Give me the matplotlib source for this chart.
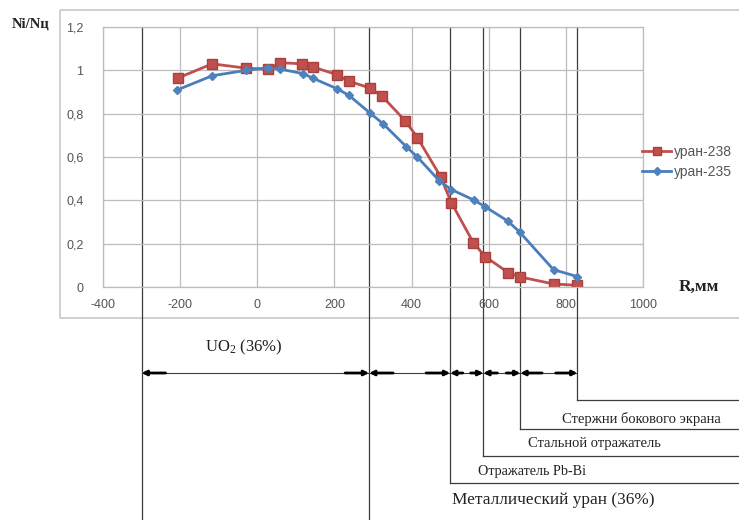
import matplotlib.pyplot as plt
from matplotlib.patches import Rectangle

plt.rcParams["axes.unicode_minus"] = False

# radius, mm and relative fission rate Ni/Nц
r_238 = [-205, -117, -29, 29, 60, 117, 145, 207, 237, 293, 324, 384, 415, 475, 503,
         560, 591, 651, 680, 768, 828]
n_238 = [0.965, 1.03, 1.01, 1.005, 1.035, 1.03, 1.015, 0.98, 0.95, 0.918, 0.88, 0.766,
         0.69, 0.51, 0.39, 0.205, 0.14, 0.066, 0.047, 0.014, 0.008]
r_235 = [-207, -117, -29, 29, 60, 119, 145, 207, 237, 291, 327, 386, 415, 472, 503,
         563, 591, 649, 680, 768, 830]
n_235 = [0.91, 0.975, 1.0, 1.012, 1.005, 0.985, 0.963, 0.915, 0.885, 0.805, 0.752,
         0.648, 0.6, 0.49, 0.45, 0.40, 0.37, 0.305, 0.254, 0.08, 0.048]

x_ticks = [-400, -200, 0, 200, 400, 600, 800, 1000]
y_ticks = [0, 0.2, 0.4, 0.6, 0.8, 1.0, 1.2]
y_labels = ["0", "0,2", "0,4", "0,6", "0,8", "1", "1,2"]

# zone boundaries along R, mm
bounds = [-300, 290, 500, 586, 682, 830]
uo2_label = r"UO$\mathregular{_2}$ (36%)"
zone_labels = ["Металлический уран (36%)", "Отражатель Pb-Bi",
               "Стальной отражатель", "Стержни бокового экрана"]

W, H = 739, 520
fig = plt.figure(figsize=(W / 100, H / 100), dpi=100)

# plot area in pixels
px_l, px_r, px_t, px_b = 103, 643, 27, 287
pos = [px_l / W, 1 - px_b / H, (px_r - px_l) / W, (px_b - px_t) / H]

# overlay for the zone scheme: x in mm (same scale as the chart), y in pixels from top
sk = fig.add_axes([0, 0, 1, 1])
mm_per_px = (x_ticks[-1] - x_ticks[0]) / (px_r - px_l)
sk.set_xlim(x_ticks[0] - px_l * mm_per_px, x_ticks[-1] + (W - px_r) * mm_per_px)
sk.set_ylim(H, 0)
sk.axis("off")

# chart area border
x0, x1 = sk.get_xlim()
sk.add_patch(Rectangle((x0 + 60 * mm_per_px, 10), (W - 58) * mm_per_px, 308,
                       fill=False, edgecolor="#c8c8c8", lw=1.2))

line_c = "#3c3c3c"
ends = [H, H, 483, 456, 429, 400]
for b, e in zip(bounds, ends):
    sk.plot([b, b], [px_t, e], color=line_c, lw=0.9)
    if e < H:
        sk.plot([b, x1], [e, e], color=line_c, lw=0.9)

# arrow row
ya = 373
sk.plot([bounds[0], bounds[-1]], [ya, ya], color=line_c, lw=0.8)
for a, b in zip(bounds[:-1], bounds[1:]):
    seg = (b - a) / mm_per_px
    ln = min(24, seg * 0.38) * mm_per_px
    for tip, tail in [(a, a + ln), (b, b - ln)]:
        sk.annotate("", xy=(tip, ya), xytext=(tail, ya),
                    arrowprops=dict(arrowstyle="-|>", color="black", lw=2.0,
                                    mutation_scale=7, shrinkA=0, shrinkB=0))

serif = "Liberation Serif"
tc = "#222222"
sk.text(-135, 347, uo2_label, family=serif, fontsize=12, va="center", ha="left", color=tc)
sk.text(506, 500, zone_labels[0], family=serif, fontsize=12.4, va="center", color=tc)
sk.text(573, 472, zone_labels[1], family=serif, fontsize=10.2, va="center", color=tc)
sk.text(703, 444, zone_labels[2], family=serif, fontsize=10.5, va="center", color=tc)
sk.text(791, 419, zone_labels[3], family=serif, fontsize=10.5, va="center", color=tc)

# main chart
ax = fig.add_axes(pos)
ax.set_facecolor("none")
ax.plot(r_238, n_238, color="#c0504d", lw=2, marker="s", markersize=7.5,
        markerfacecolor="#c0504d", markeredgecolor="#a8403d", label="уран-238")
ax.plot(r_235, n_235, color="#4a7ebb", lw=2, marker="D", markersize=4.5,
        markerfacecolor="#4f81bd", markeredgecolor="#4f81bd", label="уран-235")
ax.set_xlim(x_ticks[0], x_ticks[-1])
ax.set_ylim(y_ticks[0], y_ticks[-1])
ax.set_xticks(x_ticks)
ax.set_yticks(y_ticks)
ax.set_yticklabels(y_labels)
ax.grid(True, color="#bdbdbd", lw=0.9)
for s in ax.spines.values():
    s.set_color("#bdbdbd")
    s.set_linewidth(0.9)
ax.tick_params(length=0, labelsize=9, labelcolor="#555555", pad=9)
for lab in ax.get_xticklabels() + ax.get_yticklabels():
    lab.set_family("Liberation Sans")
ax.tick_params(axis="y", pad=14)

fig.text(31 / W, 1 - 24 / H, "Ni/Nц", family=serif, fontsize=10.5, fontweight="bold",
         ha="center", va="center", color=tc)
fig.text(699 / W, 1 - 287 / H, "R,мм", family=serif, fontsize=12.5, fontweight="bold",
         ha="center", va="center", color=tc)

leg = ax.legend(loc="upper left", bbox_to_anchor=(642 / W, 1 - 145 / H),
                bbox_transform=fig.transFigure, frameon=False,
                handlelength=2.1, handletextpad=0.2, borderpad=0, borderaxespad=0,
                labelspacing=0.45, markerscale=0.85,
                prop={"family": "Liberation Sans", "size": 10},
                labelcolor="#555555")

fig.savefig("out.png", dpi=100)
